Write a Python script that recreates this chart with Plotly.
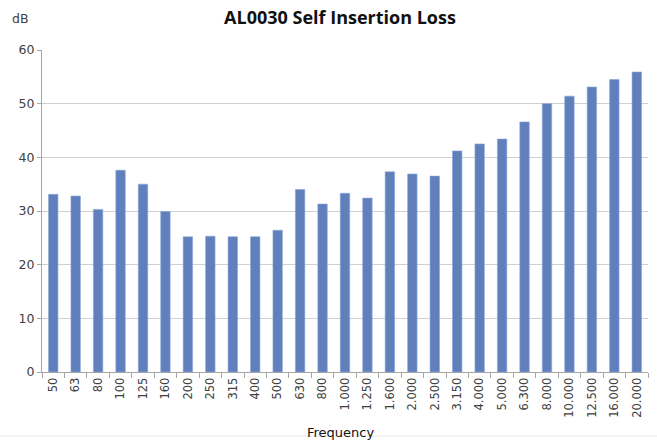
import plotly.graph_objects as go

categories = ["50", "63", "80", "100", "125", "160", "200", "250", "315", "400", "500",
              "630", "800", "1.000", "1.250", "1.600", "2.000", "2.500", "3.150", "4.000",
              "5.000", "6.300", "8.000", "10.000", "12.500", "16.000", "20.000"]
values = [33.1, 32.8, 30.3, 37.6, 35.0, 29.9, 25.2, 25.3, 25.2, 25.2, 26.4,
          34.0, 31.3, 33.3, 32.4, 37.3, 36.9, 36.5, 41.2, 42.5,
          43.4, 46.6, 50.0, 51.4, 53.1, 54.5, 55.9]
y_ticks = [0, 10, 20, 30, 40, 50, 60]

TITLE_FONT = "Open Sans, DejaVu Sans, sans-serif"
FONT = "DejaVu Sans, sans-serif"

fig = go.Figure(go.Bar(
    x=categories, y=values,
    marker=dict(color="#5f80bd", line=dict(width=0.6, color="#8aa4d4")),
))

fig.update_layout(
    width=657, height=441,
    margin=dict(l=42, r=9, t=50, b=69, autoexpand=False),
    paper_bgcolor="white", plot_bgcolor="white",
    bargap=0.58,
    showlegend=False,
    title=dict(text="<b>AL0030 Self Insertion Loss</b>", x=0.5175, xanchor="center",
               y=0.959, yanchor="middle",
               font=dict(family=TITLE_FONT, size=18, color="#111111")),
    font=dict(family=FONT, color="#595959"),
    xaxis=dict(
        type="category", tickangle=-90, tickson="boundaries",
        ticks="outside", ticklen=5, tickcolor="#a6a6a6",
        showline=True, linecolor="#a6a6a6", linewidth=1,
        tickfont=dict(family=FONT, size=11.5, color="#404040"),
        showgrid=False, automargin=False,
    ),
    yaxis=dict(
        range=[0, 60], tickvals=y_ticks, ticks="outside", ticklen=4,
        tickcolor="#a6a6a6", showline=True, linecolor="#a6a6a6", linewidth=1,
        gridcolor="#d0d0d0", gridwidth=1, zeroline=False,
        tickfont=dict(family=FONT, size=12.5, color="#404040"), automargin=False,
    ),
    annotations=[
        dict(text="dB", x=-0.036, y=1.099, xref="paper", yref="paper", showarrow=False,
             xanchor="center", yanchor="middle",
             font=dict(family=FONT, size=12.5, color="#404040")),
        dict(text="Frequency", x=0.493, y=-0.189, xref="paper", yref="paper",
             showarrow=False, xanchor="center", yanchor="middle",
             font=dict(family=FONT, size=13, color="#111111")),
    ],
    shapes=[
        dict(type="line", xref="paper", yref="paper", x0=-0.069, x1=1.015,
             y0=-0.199, y1=-0.199, line=dict(color="#e8e8e8", width=1), layer="below"),
    ],
)

fig.write_html("out.html", config={"displayModeBar": False},
               post_script="document.body.style.margin='0';")
